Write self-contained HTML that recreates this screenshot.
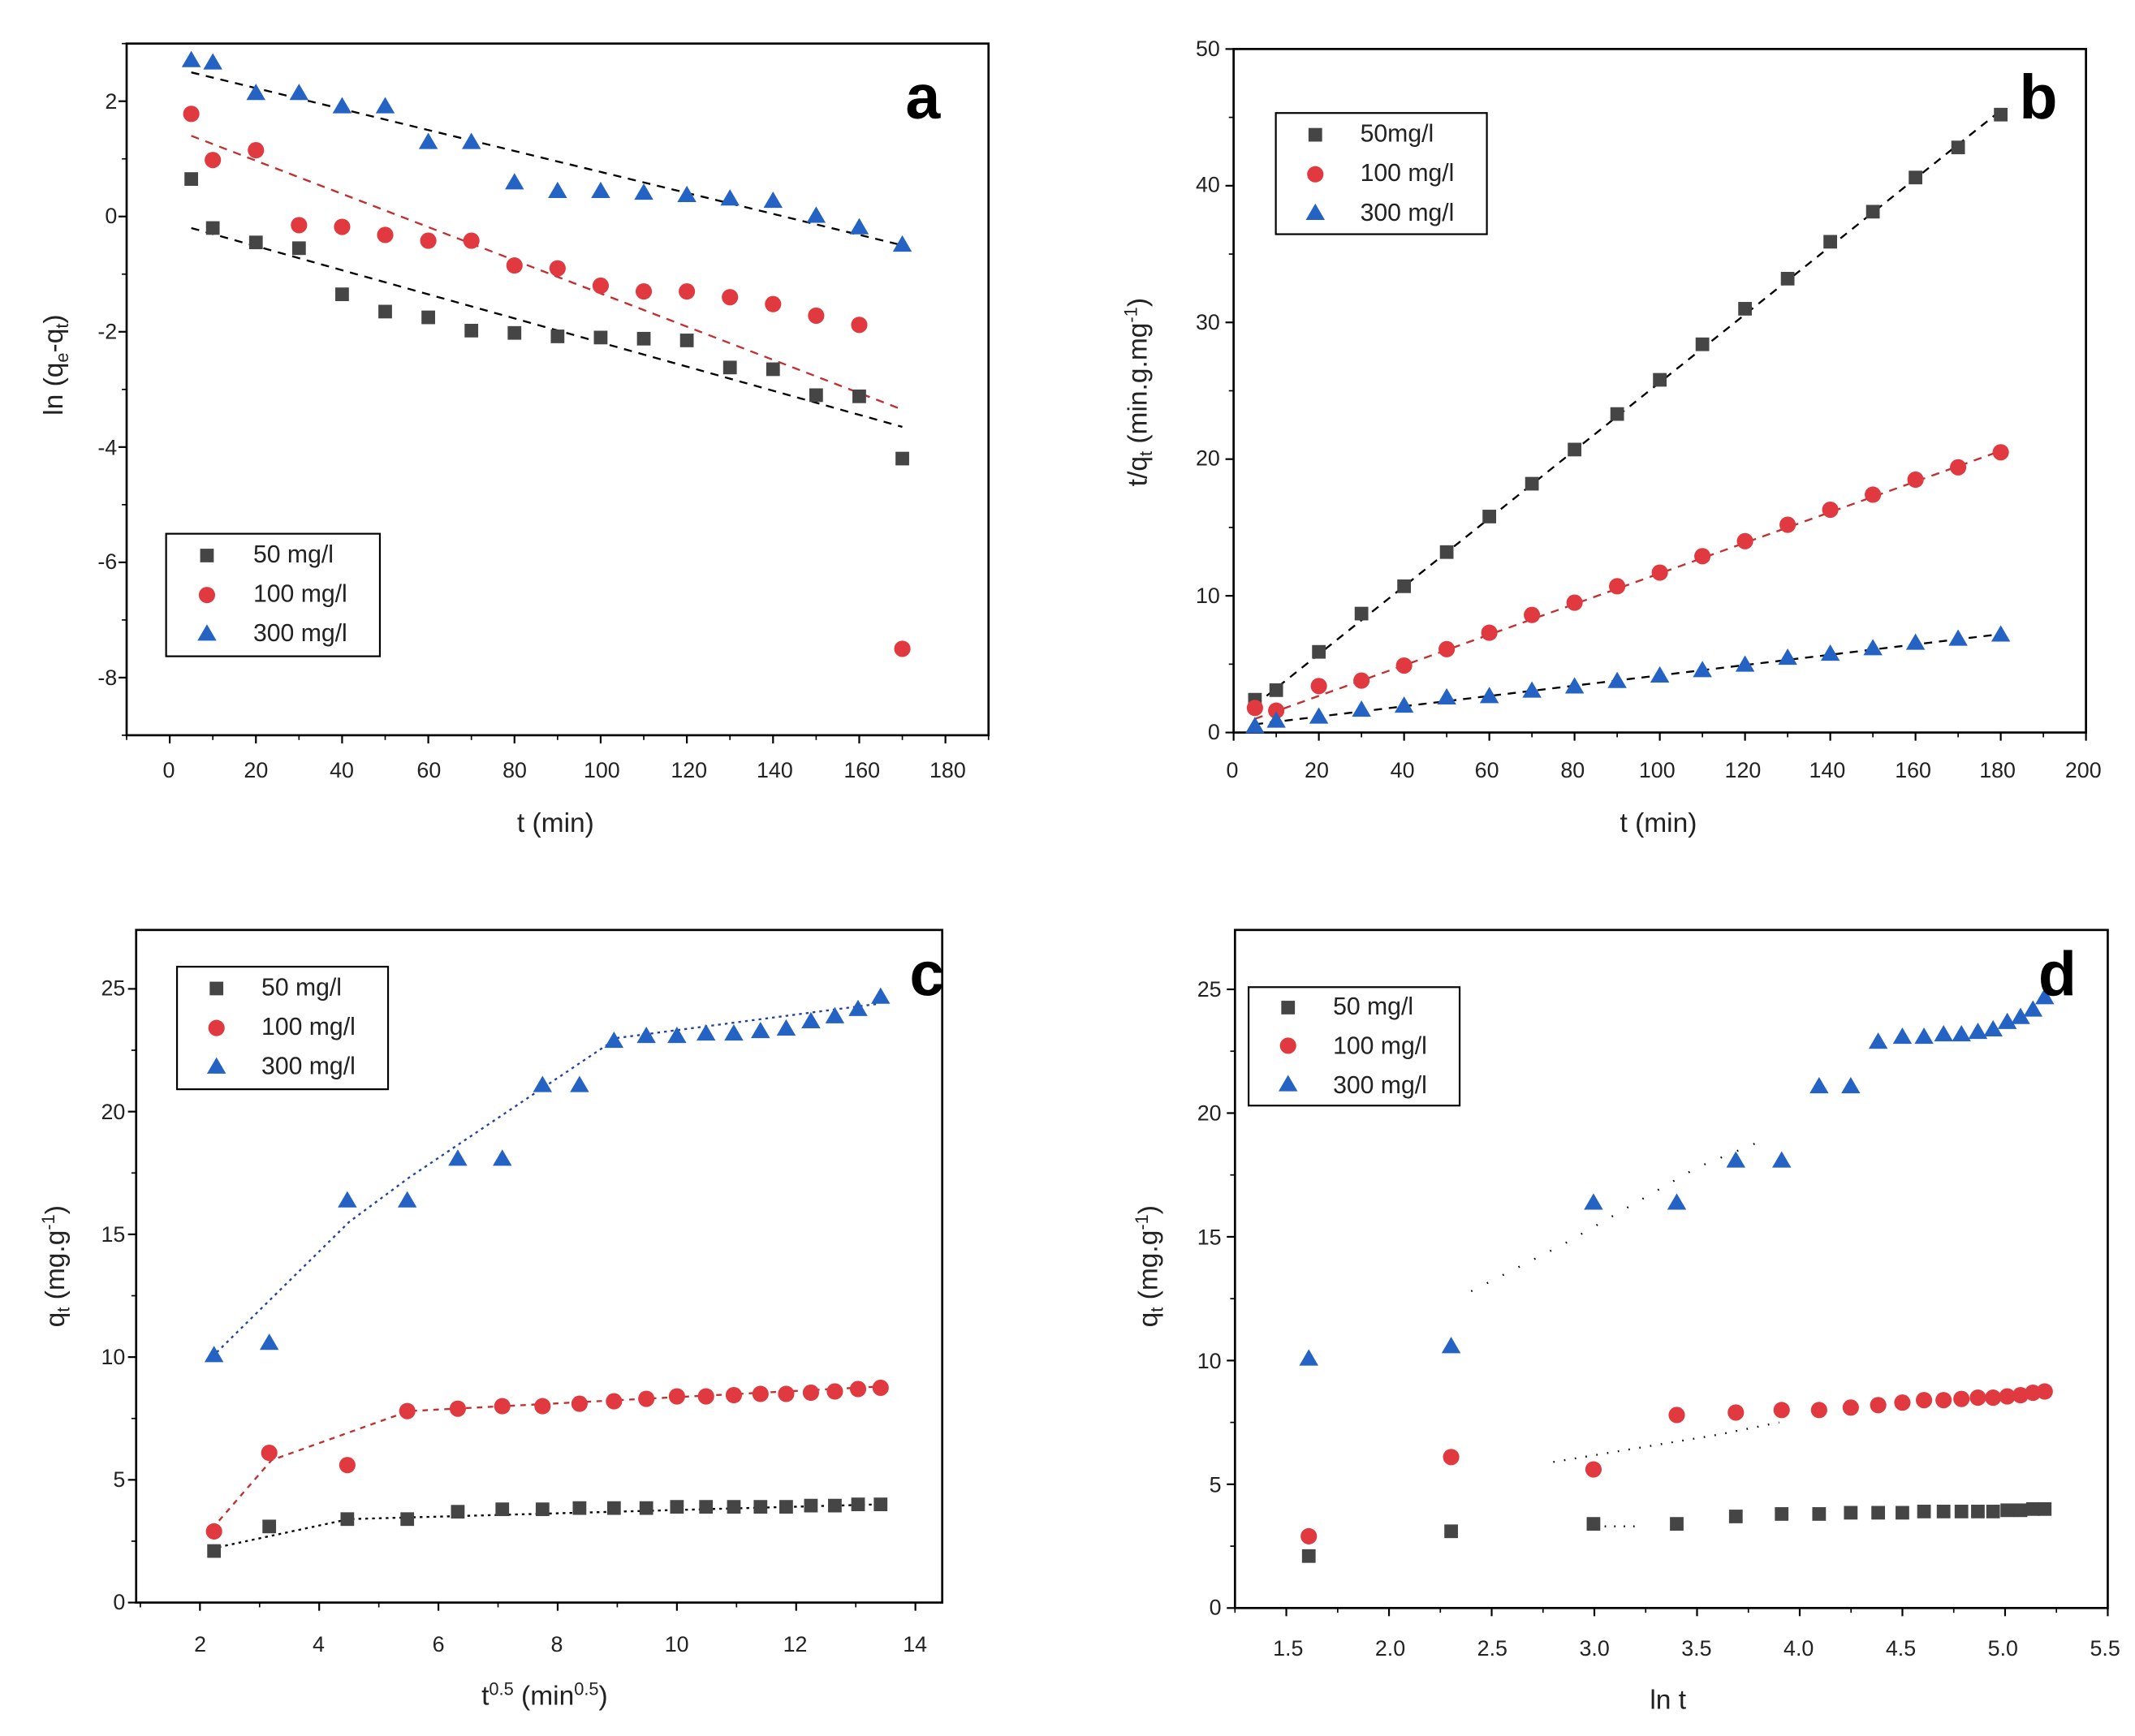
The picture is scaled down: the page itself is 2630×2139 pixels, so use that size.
<!DOCTYPE html>
<html><head><meta charset="utf-8"><style>
html,body{margin:0;padding:0;background:#fff}
svg{display:block}
text{font-family:"Liberation Sans",sans-serif;fill:#222}
.t{font-size:16px}
.l{font-size:20px}
.g{font-size:18px}
.big{font-size:46px;font-weight:bold;fill:#000}
</style></head><body>
<svg id="s" width="2630" height="2139" viewBox="0 0 1568 1275" preserveAspectRatio="none" xmlns="http://www.w3.org/2000/svg">
<rect width="1568" height="1275" fill="#fff"/>
<g id="plots"></g>
<g class="t" text-anchor="end">
<text x="86" y="80">2</text><text x="86" y="164">0</text><text x="86" y="249">-2</text><text x="86" y="334">-4</text><text x="86" y="418">-6</text><text x="86" y="503">-8</text>
</g>
<g class="t" text-anchor="middle">
<text x="124" y="571">0</text><text x="188" y="571">20</text><text x="251" y="571">40</text><text x="315" y="571">60</text><text x="378" y="571">80</text><text x="442" y="571">100</text><text x="506" y="571">120</text><text x="569" y="571">140</text><text x="633" y="571">160</text><text x="696" y="571">180</text>
</g>
<text class="l" x="408" y="611" text-anchor="middle">t (min)</text>
<text class="l" transform="translate(46,268) rotate(-90)" text-anchor="middle">ln (q<tspan font-size="13" dy="4">e</tspan><tspan dy="-4">-q</tspan><tspan font-size="13" dy="4">t</tspan><tspan dy="-4">)</tspan></text>
<text class="big" x="665" y="87">a</text>
<rect x="122" y="392" width="157" height="90" fill="none" stroke="#000" stroke-width="1.3"/>
<text class="g" x="186" y="413">50 mg/l</text><text class="g" x="186" y="442">100 mg/l</text><text class="g" x="186" y="471">300 mg/l</text>

<g class="t" text-anchor="end">
<text x="896" y="543">0</text><text x="896" y="443">10</text><text x="896" y="342">20</text><text x="896" y="242">30</text><text x="896" y="141">40</text><text x="896" y="41">50</text>
</g>
<g class="t" text-anchor="middle">
<text x="905" y="571">0</text><text x="967" y="571">20</text><text x="1030" y="571">40</text><text x="1092" y="571">60</text><text x="1155" y="571">80</text><text x="1217" y="571">100</text><text x="1280" y="571">120</text><text x="1342" y="571">140</text><text x="1405" y="571">160</text><text x="1467" y="571">180</text><text x="1530" y="571">200</text>
</g>
<text class="l" x="1218" y="611" text-anchor="middle">t (min)</text>
<text class="l" transform="translate(842,288) rotate(-90)" text-anchor="middle">t/q<tspan font-size="13" dy="4">t</tspan><tspan dy="-4"> (min.g.mg</tspan><tspan font-size="13" dy="-7">-1</tspan><tspan dy="7">)</tspan></text>
<text class="big" x="1483" y="87">b</text>
<rect x="937" y="83" width="155" height="89" fill="none" stroke="#000" stroke-width="1.3"/>
<text class="g" x="999" y="104">50mg/l</text><text class="g" x="999" y="133">100 mg/l</text><text class="g" x="999" y="162">300 mg/l</text>

<g class="t" text-anchor="end">
<text x="92" y="1182">0</text><text x="92" y="1092">5</text><text x="92" y="1002">10</text><text x="92" y="912">15</text><text x="92" y="822">20</text><text x="92" y="731">25</text>
</g>
<g class="t" text-anchor="middle">
<text x="147" y="1213">2</text><text x="234" y="1213">4</text><text x="322" y="1213">6</text><text x="409" y="1213">8</text><text x="497" y="1213">10</text><text x="584" y="1213">12</text><text x="672" y="1213">14</text>
</g>
<text class="l" x="400" y="1252" text-anchor="middle">t<tspan font-size="13" dy="-7">0.5</tspan><tspan dy="7"> (min</tspan><tspan font-size="13" dy="-7">0.5</tspan><tspan dy="7">)</tspan></text>
<text class="l" transform="translate(47,930) rotate(-90)" text-anchor="middle">q<tspan font-size="13" dy="4">t</tspan><tspan dy="-4"> (mg.g</tspan><tspan font-size="13" dy="-7">-1</tspan><tspan dy="7">)</tspan></text>
<text class="big" x="668" y="731">c</text>
<rect x="130" y="710" width="155" height="90" fill="none" stroke="#000" stroke-width="1.3"/>
<text class="g" x="192" y="731">50 mg/l</text><text class="g" x="192" y="760">100 mg/l</text><text class="g" x="192" y="789">300 mg/l</text>

<g class="t" text-anchor="end">
<text x="897" y="1186">0</text><text x="897" y="1096">5</text><text x="897" y="1005">10</text><text x="897" y="914">15</text><text x="897" y="823">20</text><text x="897" y="732">25</text>
</g>
<g class="t" text-anchor="middle">
<text x="946" y="1216">1.5</text><text x="1021" y="1216">2.0</text><text x="1096" y="1216">2.5</text><text x="1171" y="1216">3.0</text><text x="1246" y="1216">3.5</text><text x="1321" y="1216">4.0</text><text x="1396" y="1216">4.5</text><text x="1471" y="1216">5.0</text><text x="1546" y="1216">5.5</text>
</g>
<text class="l" x="1225" y="1255" text-anchor="middle">ln t</text>
<text class="l" transform="translate(850,930) rotate(-90)" text-anchor="middle">q<tspan font-size="13" dy="4">t</tspan><tspan dy="-4"> (mg.g</tspan><tspan font-size="13" dy="-7">-1</tspan><tspan dy="7">)</tspan></text>
<text class="big" x="1497" y="731">d</text>
<rect x="917" y="725" width="155" height="87" fill="none" stroke="#000" stroke-width="1.3"/>
<text class="g" x="979" y="745">50 mg/l</text><text class="g" x="979" y="774">100 mg/l</text><text class="g" x="979" y="803">300 mg/l</text>
</svg>
<script>
const NS="http://www.w3.org/2000/svg",G=document.getElementById("plots");
function el(n,a){const e=document.createElementNS(NS,n);for(const k in a)e.setAttribute(k,a[k]);G.appendChild(e);return e;}
const K="#454545",R="#e0393f",B="#2462c4";
function mk(t,x,y){
 if(t==0)el("rect",{x:x-5,y:y-5,width:10,height:10,fill:K});
 else if(t==1)el("circle",{cx:x,cy:y,r:6,fill:R});
 else el("polygon",{points:`${x},${y-6.5} ${x+7},${y+5.5} ${x-7},${y+5.5}`,fill:B});
}
function panel(P){
 const X=v=>P.x0+(v-P.xa)/(P.xb-P.xa)*(P.x1-P.x0), Y=v=>P.y1-(v-P.ya)/(P.yb-P.ya)*(P.y1-P.y0);
 el("rect",{x:P.x0,y:P.y0,width:P.x1-P.x0,height:P.y1-P.y0,fill:"none",stroke:"#000","stroke-width":1.6});
 for(const v of P.xt){el("line",{x1:X(v),x2:X(v),y1:P.y1,y2:P.y1+6,stroke:"#000","stroke-width":1.3});}
 for(const v of P.xm){el("line",{x1:X(v),x2:X(v),y1:P.y1,y2:P.y1+3.5,stroke:"#000","stroke-width":1});}
 for(const v of P.yt){el("line",{y1:Y(v),y2:Y(v),x1:P.x0,x2:P.x0-6,stroke:"#000","stroke-width":1.3});}
 for(const v of P.ym){el("line",{y1:Y(v),y2:Y(v),x1:P.x0,x2:P.x0-3.5,stroke:"#000","stroke-width":1});}
 for(const L of P.lines){el("polyline",{points:L.p.map(q=>X(q[0])+","+Y(q[1])).join(" "),fill:"none",stroke:L.c,"stroke-width":1.4,"stroke-dasharray":L.d});}
 P.series.forEach((s,i)=>s.forEach((v,j)=>mk(i,X(P.xs[j]),Y(v))));
 P.leg.forEach((q,i)=>mk(i,q[0],q[1]));
}
const ta=[5,10,20,30,40,50,60,70,80,90,100,110,120,130,140,150,160,170];
const tb=[5,10,20,30,40,50,60,70,80,90,100,110,120,130,140,150,160,170,180];
const r=(a,b,s)=>{const o=[];for(let v=a;v<=b+1e-9;v+=s)o.push(+v.toFixed(3));return o;};
panel({x0:93,x1:726,y0:32,y1:540,xa:-10,xb:190,ya:-9,yb:3,xt:r(0,180,20),xm:r(-10,190,20),yt:r(-8,2,2),ym:r(-9,3,2),xs:ta,
series:[[0.65,-0.2,-0.45,-0.55,-1.35,-1.65,-1.75,-1.98,-2.02,-2.08,-2.1,-2.12,-2.15,-2.62,-2.65,-3.1,-3.12,-4.2],
[1.78,0.98,1.15,-0.15,-0.18,-0.32,-0.42,-0.42,-0.85,-0.9,-1.2,-1.3,-1.3,-1.4,-1.52,-1.72,-1.88,-7.5],
[2.72,2.68,2.15,2.15,1.92,1.92,1.3,1.3,0.6,0.45,0.45,0.42,0.38,0.32,0.28,0.02,-0.18,-0.48]],
lines:[{p:[[5,-0.2],[170,-3.65]],c:"#000",d:"6 5"},{p:[[5,1.4],[170,-3.35]],c:"#c03030",d:"6 5"},{p:[[5,2.5],[170,-0.5]],c:"#000",d:"6 5"}],
leg:[[152,408],[152,437],[152,465]]});
panel({x0:906,x1:1532,y0:36,y1:538,xa:0,xb:200,ya:0,yb:50,xt:r(0,200,20),xm:r(10,190,20),yt:r(0,50,10),ym:r(5,45,10),xs:tb,
series:[[2.4,3.1,5.9,8.7,10.7,13.2,15.8,18.2,20.7,23.3,25.8,28.4,31,33.2,35.9,38.1,40.6,42.8,45.2],
[1.8,1.6,3.4,3.8,4.9,6.1,7.3,8.6,9.5,10.7,11.7,12.9,14,15.2,16.3,17.4,18.5,19.4,20.5],
[0.5,0.9,1.2,1.7,2,2.6,2.7,3.1,3.4,3.8,4.2,4.6,5,5.5,5.8,6.2,6.6,6.9,7.2]],
lines:[{p:[[5,2],[180,45.5]],c:"#000",d:"6 5"},{p:[[5,1],[180,20.6]],c:"#c03030",d:"6 5"},{p:[[5,0.6],[180,7.2]],c:"#000",d:"6 5"}],
leg:[[966,99],[966,128],[966,156]]});
const qK=[2.1,3.1,3.4,3.4,3.7,3.8,3.8,3.85,3.85,3.85,3.9,3.9,3.9,3.9,3.9,3.95,3.95,4,4],
qR=[2.9,6.1,5.6,7.8,7.9,8,8,8.1,8.2,8.3,8.4,8.4,8.45,8.5,8.5,8.55,8.6,8.7,8.75],
qB=[10.1,10.6,16.4,16.4,18.1,18.1,21.1,21.1,22.9,23.1,23.1,23.2,23.2,23.3,23.4,23.7,23.9,24.2,24.7];
panel({x0:100,x1:692,y0:683,y1:1177,xa:0.93,xb:14.45,ya:0,yb:27.4,xt:r(2,14,2),xm:r(1,13,2),yt:r(0,25,5),ym:r(2.5,22.5,5),xs:tb.map(Math.sqrt),
series:[qK,qR,qB],
lines:[{p:[[2.2,2.2],[4.5,3.4],[13.4,4]],c:"#000",d:"2 3"},{p:[[2.2,3],[3.2,5.8],[5.5,7.8],[13.4,8.8]],c:"#c03030",d:"4 4"},{p:[[2.2,10],[4.5,15.5],[5.5,17.3],[9,23],[13.4,24.4]],c:"#2040a0",d:"2 3"}],
leg:[[159,726],[159,755],[159,783]]});
panel({x0:907,x1:1548,y0:683,y1:1181,xa:1.25,xb:5.5,ya:0,yb:27.4,xt:r(1.5,5.5,0.5),xm:r(1.25,5.25,0.5),yt:r(0,25,5),ym:r(2.5,22.5,5),xs:tb.map(Math.log),
series:[qK,qR,qB],
lines:[{p:[[3.05,3.3],[3.2,3.3]],c:"#000",d:"1 6"},{p:[[2.8,5.9],[3.6,7],[3.9,7.5]],c:"#000",d:"1 7"},{p:[[2.4,12.8],[2.85,14.7],[3.5,17.8],[3.85,19]],c:"#000",d:"1 12"}],
leg:[[946,740],[946,768],[946,796]]});
</script>
</body></html>
